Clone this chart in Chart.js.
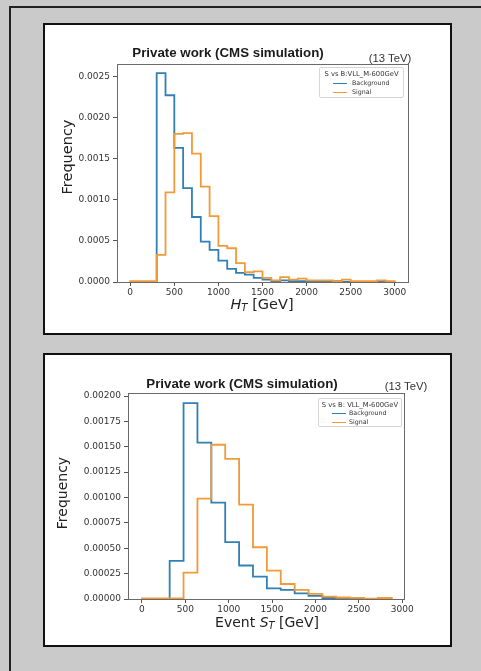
<!DOCTYPE html>
<html>
<head>
<meta charset="utf-8">
<script src="https://cdn.jsdelivr.net/npm/chart.js@4.4.0/dist/chart.umd.min.js"></script>
<style>
  body { margin:0; width:481px; height:671px; overflow:hidden; position:relative; background:#cacaca; font-family:"DejaVu Sans", sans-serif; }
  .frame { position:absolute; left:9px; top:6px; width:470px; height:663px; border-top:2px solid #222; border-left:2px solid #222; }
  .panel { position:absolute; left:43px; width:409px; box-sizing:border-box; background:#fff; border:2px solid #111; }
  canvas { position:absolute; }
  .txt { position:absolute; white-space:nowrap; line-height:1; transform:translate(-50%,-50%); color:#222; }
  .title { font:bold 13.3px "Liberation Sans", Arial, sans-serif; color:#1a1a1a; }
  .energy { font:11.3px "Liberation Sans", Arial, sans-serif; color:#333; }
  .ytitle { font-family:"DejaVu Sans"; transform:translate(-50%,-50%) rotate(-90deg); }
  .xtitle { font-family:"DejaVu Sans"; }
  .xtitle sub { font-size:70%; vertical-align:-0.25em; }
  .legend { position:absolute; box-sizing:border-box; background:#fff; border:1px solid #d6d6d6; border-radius:2px; font-family:"DejaVu Sans"; color:#333; }
  .legend .lt { position:absolute; left:0; right:0; text-align:center; font-size:6.8px; line-height:1; }
  .legend .row { position:absolute; font-size:6.3px; line-height:1; }
  .legend .sw { position:absolute; height:0; border-top:1.5px solid; }
</style>
</head>
<body>
<div class="frame"></div>
<div class="panel" style="top:23px;height:312px;"></div>
<div class="panel" style="top:353px;height:294px;"></div>

<canvas id="htChart" width="405" height="308" style="left:45px;top:25px;"></canvas>
<canvas id="stChart" width="405" height="290" style="left:45px;top:355px;"></canvas>

<div class="txt title" style="left:228px;top:52px;">Private work (CMS simulation)</div>
<div class="txt energy" style="left:390px;top:58px;">(13 TeV)</div>
<div class="txt ytitle" style="left:67px;top:157px;font-size:14.5px;">Frequency</div>
<div class="txt xtitle" style="left:262px;top:305px;font-size:14.5px;"><i>H</i><sub><i>T</i></sub> [GeV]</div>

<div class="txt title" style="left:242px;top:383px;">Private work (CMS simulation)</div>
<div class="txt energy" style="left:406px;top:386px;">(13 TeV)</div>
<div class="txt ytitle" style="left:62px;top:493px;font-size:14px;">Frequency</div>
<div class="txt xtitle" style="left:267px;top:623px;font-size:14px;">Event <i>S</i><sub><i>T</i></sub> [GeV]</div>

<div id="htLegend" class="legend" style="left:319px;top:67px;width:85px;height:31px;"></div>
<div id="stLegend" class="legend" style="left:318px;top:398px;width:84px;height:29px;"></div>

<script>
// H_T histogram (bins of 100 GeV)
const htEdges = [0,100,200,300,400,500,600,700,800,900,1000,1100,1200,1300,1400,1500,
  1600,1700,1800,1900,2000,2100,2200,2300,2400,2500,2600,2700,2800,2900,3000];
const htBackground = [0,0,0,0.00254,0.00227,0.00163,0.00114,0.00079,0.00049,0.00039,
  0.00026,0.00016,0.00011,0.00009,0.00005,0.00003,0.00001,0.00002,0.00001,0.00001,
  0.00001,0.00001,0.00001,0.00001,0,0,0,0,0,0];
const htSignal = [0.00001,0.00001,0.00001,0.00033,0.00109,0.00180,0.00181,0.00156,0.00116,0.00080,
  0.00044,0.00041,0.00023,0.00012,0.00013,0.00005,0.00002,0.00006,0.00003,0.00004,
  0.00002,0.00002,0.00002,0.00001,0.00003,0.00001,0.00001,0.00001,0.00002,0.00001];
const htXTicks = [0,500,1000,1500,2000,2500,3000];
const htYTicks = [0,0.0005,0.0010,0.0015,0.0020,0.0025];

// S_T histogram (bins of 160 GeV)
const stEdges = [0,160,320,480,640,800,960,1120,1280,1440,1600,1760,1920,2080,2240,2400,2560,2720,2880];
const stBackground = [0,0,0.000375,0.00193,0.00154,0.00095,0.00056,0.00033,0.00022,0.000105,
  0.00009,0.000055,0.00003,0.00001,0.00001,0.00001,0,0];
const stSignal = [0.000005,0.000005,0.000005,0.00026,0.00099,0.00152,0.00138,0.00093,0.00051,0.00028,
  0.000148,0.00009,0.00005,0.000023,0.000015,0.000012,0.000003,0.00001];
const stXTicks = [0,500,1000,1500,2000,2500,3000];
const stYTicks = [0,0.00025,0.0005,0.00075,0.001,0.00125,0.0015,0.00175,0.002];

const BLUE = '#3080b6';
const ORANGE = '#f29a3a';

// outline of a step histogram, drawn with stepped lines
function stepPoints(edges, values) {
  const pts = [{ x: edges[0], y: 0 }];
  values.forEach((v, i) => pts.push({ x: edges[i], y: v }));
  pts.push({ x: edges[edges.length - 1], y: 0 });
  return pts;
}

// box around the axes like matplotlib
const spines = {
  id: 'spines',
  afterDraw(chart) {
    const a = chart.chartArea, ctx = chart.ctx;
    ctx.save();
    ctx.strokeStyle = '#6a6a6a';
    ctx.lineWidth = 1;
    ctx.strokeRect(Math.round(a.left) + 0.5, Math.round(a.top) + 0.5,
      Math.round(a.right - a.left), Math.round(a.bottom - a.top));
    ctx.restore();
  }
};

function makeHist(id, cfg) {
  const tickFont = { family: 'DejaVu Sans', size: 9 };
  return new Chart(document.getElementById(id), {
    type: 'line',
    data: {
      datasets: [
        { label: 'Background', data: stepPoints(cfg.edges, cfg.bg), borderColor: BLUE, order: 2 },
        { label: 'Signal', data: stepPoints(cfg.edges, cfg.sig), borderColor: ORANGE, order: 1 }
      ]
    },
    options: {
      responsive: false,
      animation: false,
      datasets: { line: { stepped: true, borderWidth: 1.8, pointRadius: 0, fill: false, tension: 0 } },
      layout: { padding: { top: cfg.padTop, right: cfg.padRight, left: 0, bottom: 0 } },
      plugins: { legend: { display: false }, tooltip: { enabled: false } },
      scales: {
        x: {
          type: 'linear', min: cfg.xMin, max: cfg.xMax,
          afterFit: s => { s.height = cfg.xHeight; },
          afterBuildTicks: s => { s.ticks = cfg.xTicks.map(v => ({ value: v })); },
          ticks: { font: tickFont, color: '#333', padding: 1, maxRotation: 0, autoSkip: false, callback: v => String(v) },
          grid: { drawOnChartArea: false, tickLength: 4, color: '#555' },
          border: { display: false }
        },
        y: {
          type: 'linear', min: 0, max: cfg.yMax,
          afterFit: s => { s.width = cfg.yWidth; },
          afterBuildTicks: s => { s.ticks = cfg.yTicks.map(v => ({ value: v })); },
          ticks: { font: tickFont, color: '#333', padding: 3, autoSkip: false, callback: v => v.toFixed(cfg.digits) },
          grid: { drawOnChartArea: false, tickLength: 4, color: '#555' },
          border: { display: false }
        }
      }
    },
    plugins: [spines]
  });
}

function buildLegend(id, title, chart, rowTops, swLeft, txtLeft) {
  const box = document.getElementById(id);
  let html = `<div class="lt" style="top:3px;">${title}</div>`;
  chart.data.datasets.forEach((ds, i) => {
    html += `<div class="sw" style="left:${swLeft}px;width:14px;top:${rowTops[i] + 3}px;border-color:${ds.borderColor};"></div>`;
    html += `<div class="row" style="left:${txtLeft}px;top:${rowTops[i]}px;">${ds.label}</div>`;
  });
  box.innerHTML = html;
}

const htChart = makeHist('htChart', {
  edges: htEdges, bg: htBackground, sig: htSignal, xTicks: htXTicks, yTicks: htYTicks,
  xMin: -150, xMax: 3150, yMax: 0.00265, digits: 4,
  padTop: 39, padRight: 42, yWidth: 72, xHeight: 51
});
const stChart = makeHist('stChart', {
  edges: stEdges, bg: stBackground, sig: stSignal, xTicks: stXTicks, yTicks: stYTicks,
  xMin: -160, xMax: 3020, yMax: 0.00203, digits: 5,
  padTop: 38, padRight: 46, yWidth: 83, xHeight: 46
});

buildLegend('htLegend', 'S vs B:VLL_M-600GeV', htChart, [12, 21], 13, 32);
buildLegend('stLegend', 'S vs B: VLL_M-600GeV', stChart, [11, 20], 13, 30);
</script>
</body>
</html>
